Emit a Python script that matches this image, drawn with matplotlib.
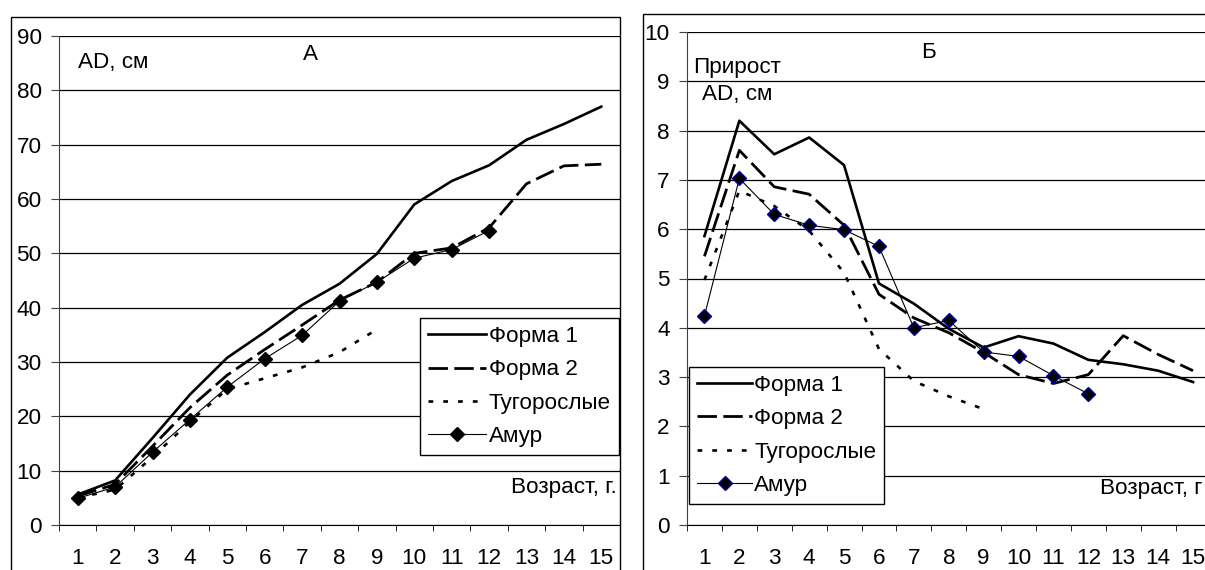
import matplotlib
matplotlib.use("Agg")
import matplotlib.pyplot as plt
from matplotlib.patches import Rectangle

plt.rcParams['font.family'] = ['Liberation Sans', 'DejaVu Sans']

# возраст, лет
ages = list(range(1, 16))

# А: длина AD, см
a_forma1 = [5.6, 8.2, 16.0, 24.0, 30.8, 35.5, 40.5, 44.4, 49.9, 59.0, 63.3, 66.2, 70.9, 73.8, 77.0]
a_forma2 = [5.3, 7.5, 14.5, 21.6, 27.6, 32.3, 36.8, 41.4, 44.7, 50.0, 51.0, 54.7, 62.8, 66.1, 66.4]
a_tugo = [5.0, 6.5, 12.5, 19.0, 25.0, 27.0, 29.0, 31.8, 36.0]
a_amur = [4.9, 7.0, 13.4, 19.4, 25.4, 30.6, 34.9, 41.2, 44.7, 49.1, 50.7, 54.2]

# Б: прирост AD, см
b_forma1 = [5.86, 8.2, 7.52, 7.86, 7.3, 4.9, 4.49, 3.98, 3.6, 3.83, 3.68, 3.35, 3.26, 3.13, 2.9]
b_forma2 = [5.45, 7.6, 6.86, 6.71, 6.08, 4.68, 4.2, 3.9, 3.5, 3.05, 2.87, 3.05, 3.84, 3.46, 3.13]
b_tugo = [4.97, 6.78, 6.47, 5.97, 5.12, 3.57, 2.92, 2.61, 2.35]
b_amur = [4.24, 7.03, 6.3, 6.08, 5.99, 5.65, 4.0, 4.15, 3.51, 3.42, 3.03, 2.66]

labels = ["Форма 1", "Форма 2", "Тугорослые", "Амур"]

fs = 16.2
W, H = 1205, 570
fig = plt.figure(figsize=(W / 100, H / 100), dpi=100)

# рамки панелей
fig.patches.append(Rectangle((11 / W, -0.1), (620 - 11) / W, 1.1 - 17 / H,
                             transform=fig.transFigure, fill=False, ec="black", lw=1))
fig.patches.append(Rectangle((643 / W, -0.1), 0.5, 1.1 - 14 / H,
                             transform=fig.transFigure, fill=False, ec="black", lw=1))


def setup(ax, ymax, step):
    ax.set_xlim(0.5, 15.5)
    ax.set_ylim(0, ymax)
    ax.set_yticks(range(0, ymax + 1, step))
    ax.set_xticks(ages)
    ax.set_xticks([x + 0.5 for x in range(0, 16)], minor=True)
    ax.tick_params(axis="x", which="major", length=0, pad=16.5, labelsize=fs)
    ax.tick_params(axis="x", which="minor", length=4, direction="out", color="black")
    ax.tick_params(axis="y", length=5.5, pad=7, labelsize=fs, color="#404040")
    ax.grid(axis="y", color="black", lw=0.9)
    ax.set_axisbelow(True)
    for s in ["top", "right"]:
        ax.spines[s].set_visible(False)
    ax.spines["left"].set_color("#404040")
    ax.spines["bottom"].set_color("black")


def draw(ax, f1, f2, tugo, amur, mfc, mec):
    ax.plot(ages[:len(f1)], f1, color="black", lw=1.9, label=labels[0])
    ax.plot(ages[:len(f2)], f2, color="black", lw=2.0, dashes=(7, 2.3), label=labels[1])
    ax.plot(ages[:len(tugo)], tugo, color="black", lw=1.9, dashes=(1.8, 3.8), label=labels[2])
    ax.plot(ages[:len(amur)], amur, color="black", lw=0.8, marker="D", markersize=7.5,
            markerfacecolor=mfc, markeredgecolor=mec, markeredgewidth=1, label=labels[3])


# панель А
ax1 = fig.add_axes([59 / W, 1 - 525 / H, 561 / W, 489 / H])
setup(ax1, 90, 10)
draw(ax1, a_forma1, a_forma2, a_tugo, a_amur, "black", "black")
ax1.text(0.034, 0.945, "AD, см", transform=ax1.transAxes, fontsize=fs, va="center")
ax1.text(0.448, 0.962, "А", transform=ax1.transAxes, fontsize=fs, ha="center", va="center")
ax1.text(0.995, 0.076, "Возраст, г.", transform=ax1.transAxes, fontsize=fs, ha="right", va="center")
leg1 = ax1.legend(loc="upper left", bbox_to_anchor=(0.6435, 0.423), fontsize=fs,
                  frameon=True, fancybox=False, edgecolor="black", framealpha=1,
                  handlelength=2.6, handletextpad=0.1, labelspacing=0.55,
                  borderpad=0.35, borderaxespad=0)
leg1.get_frame().set_linewidth(1)

# панель Б
ax2 = fig.add_axes([687 / W, 1 - 525 / H, 523.5 / W, 493 / H])
setup(ax2, 10, 1)
draw(ax2, b_forma1, b_forma2, b_tugo, b_amur, "black", "#0000a0")
ax2.text(0.0955, 0.90, "Прирост\nAD, см", transform=ax2.transAxes, fontsize=fs,
         ha="center", va="center", linespacing=1.35)
ax2.text(0.4617, 0.958, "Б", transform=ax2.transAxes, fontsize=fs, ha="center", va="center")
ax2.text((1202 - 687) / 523.5, 0.075, "Возраст, г", transform=ax2.transAxes, fontsize=fs,
         ha="right", va="center")
leg2 = ax2.legend(loc="upper left", bbox_to_anchor=(0.004, 0.3205), fontsize=fs,
                  frameon=True, fancybox=False, edgecolor="black", framealpha=1,
                  handlelength=2.45, handletextpad=0.1, labelspacing=0.55,
                  borderpad=0.35, borderaxespad=0)
leg2.get_frame().set_linewidth(1)

fig.savefig("out.png", dpi=100)
